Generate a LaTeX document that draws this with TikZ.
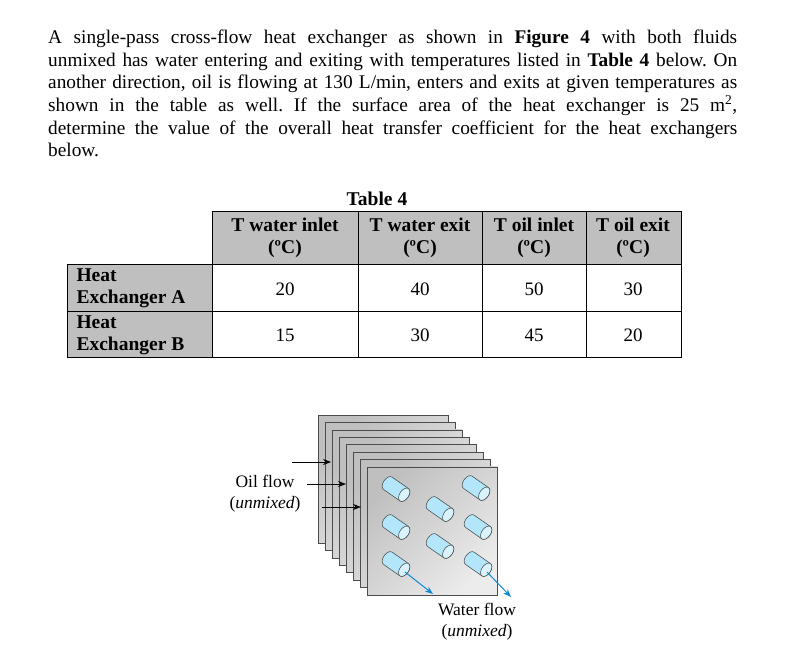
\documentclass[tikz,border=0pt]{standalone}
\usepackage{fontspec}
\setmainfont{Liberation Serif}
\usetikzlibrary{arrows.meta}
\frenchspacing
\begin{document}
\begin{tikzpicture}[x=1pt,y=-1pt,
  plate/.style={draw=black!70,line width=0.6pt,left color=gray!50,right color=gray!15,shading angle=45},
  tube/.style={draw=black!75,line width=0.5pt,fill=cyan!30},
  cell/.style={draw=black,line width=0.6pt},
  hdr/.style={font=\fontsize{19.5}{22}\selectfont\bfseries,align=center},
  num/.style={font=\fontsize{19}{21}\selectfont},
  lab/.style={font=\fontsize{17.5}{21}\selectfont,align=center}]
\useasboundingbox (0,0) rectangle (790,662);
\node[anchor=north west,inner sep=0,text width=689pt,align=justify,
  font=\fontsize{19.3}{22.6}\selectfont\frenchspacing] (para) at (48,30)
{A single-pass cross-flow heat exchanger as shown in \textbf{Figure 4} with both fluids\linebreak unmixed has water entering and exiting with temperatures listed in \textbf{Table 4} below. On\linebreak another direction, oil is flowing at 130 L/min, enters and exits at given temperatures as\linebreak shown in the table as well. If the surface area of the heat exchanger is 25 m\textsuperscript{2},\linebreak determine the value of the overall heat transfer coefficient for the heat exchangers\linebreak below.};
% table
\node[hdr] (cap) at (377,199) {Table 4};
\fill[gray!50] (212,211) rectangle (681,264);
\fill[gray!50] (67,264) rectangle (212,357);
\draw[cell] (212,211) -- (681,211) -- (681,357) -- (67,357) -- (67,264) -- (212,264) -- cycle;
\foreach \x in {212,358,482,586} \draw[cell] (\x,211) -- (\x,357);
\draw[cell] (67,264) -- (681,264);
\draw[cell] (67,311) -- (681,311);
\node[hdr] (h1) at (285,238) {T water inlet\\(ºC)};
\node[hdr] (h2) at (420,238) {T water exit\\(ºC)};
\node[hdr] (h3) at (534,238) {T oil inlet\\(ºC)};
\node[hdr] (h4) at (633,238) {T oil exit\\(ºC)};
\node[hdr,align=left,anchor=west] (ra) at (73,288) {Heat\\Exchanger A};
\node[hdr,align=left,anchor=west] (rb) at (73,335) {Heat\\Exchanger B};
\node[num] at (285,289) {20}; \node[num] at (420,289) {40};
\node[num] at (534,289) {50}; \node[num] at (633,289) {30};
\node[num] at (285,335) {15}; \node[num] at (420,335) {30};
\node[num] at (534,335) {45}; \node[num] at (633,335) {20};
% plates
\foreach \i in {0,...,7}{
  \pgfmathsetmacro{\ox}{318+7.1*\i}
  \pgfmathsetmacro{\oy}{415+7.4*\i}
  \draw[plate] (\ox,\oy) rectangle ++(130,128);
}
\coordinate (p2) at (331,462);
\coordinate (p4) at (346,484);
\coordinate (p6) at (361,507);
\draw[-{Stealth[length=8pt,width=6pt]},line width=0.7pt] (292,462) -- (p2);
\draw[-{Stealth[length=8pt,width=6pt]},line width=0.7pt] (307,484) -- (p4);
\draw[-{Stealth[length=8pt,width=6pt]},line width=0.7pt] (322,507) -- (p6);
\node[lab] (oil) at (265,494) {Oil flow\\(\textit{unmixed})};
% tubes
\foreach \x/\y [count=\k] in {396/489,476/488,440/509,396/527,478/527,440/546,396/564,478/564}{
  \begin{scope}[shift={(\x,\y)},rotate=-35]
    \draw[tube] (-10,-7.5) -- (10,-7.5) arc(-90:90:4.5 and 7.5) -- (-10,7.5) arc(90:270:4.5 and 7.5) -- cycle;
    \draw[tube,fill=cyan!15] (10,0) ellipse (4.5 and 7.5);
  \end{scope}
}
\coordinate (w1) at (433,594);
\coordinate (w2) at (511,597);
\draw[-{Stealth[length=8pt,width=6pt]},cyan!70!blue,line width=1pt] (405,572) -- (w1);
\draw[-{Stealth[length=8pt,width=6pt]},cyan!70!blue,line width=1pt] (487,572) -- (w2);
\node[lab] (water) at (477,622) {Water flow\\(\textit{unmixed})};
\end{tikzpicture}
\end{document}
